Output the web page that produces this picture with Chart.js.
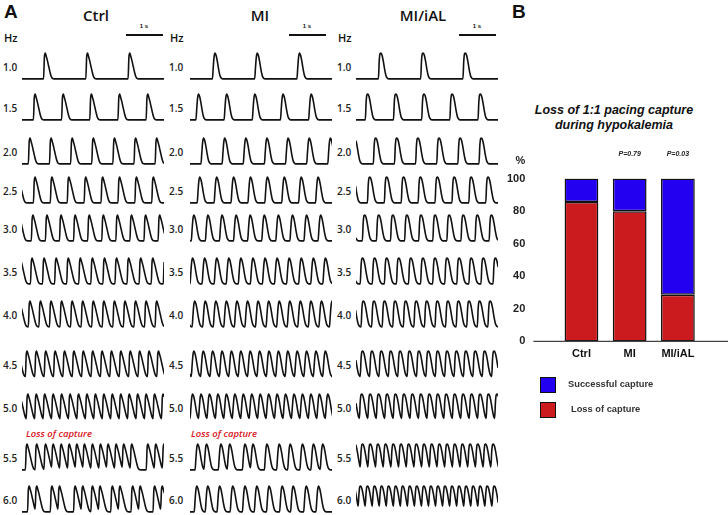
<!DOCTYPE html>
<html>
<head>
<meta charset="utf-8">
<script src="https://cdn.jsdelivr.net/npm/chart.js@4.4.1/dist/chart.umd.min.js"></script>
<style>
  body { margin: 0; background: #fff; }
  #fig { position: relative; width: 728px; height: 515px; overflow: hidden; font-family: "Liberation Sans", Arial, sans-serif; color: #111; }
  .abs { position: absolute; white-space: nowrap; line-height: 1; }
  .mid { transform: translateY(-50%); }
  .ctr { transform: translate(-50%, -50%); }
  .panel { font-weight: bold; font-size: 19px; }
  .grp { font-family: "Open Sans"; font-weight: 600; font-size: 15px; }
  .hz { font-family: "Open Sans"; font-weight: 600; font-size: 11px; }
  .rate { font-family: "Open Sans"; font-weight: 600; font-size: 10px; color: #222; }
  .sec { font-size: 6px; font-weight: bold; }
  .scalebar { height: 2px; width: 37px; background: #111; }
  .loc { font-family: "Open Sans"; font-style: italic; font-weight: 600; font-size: 9.5px; color: #d8141c; }
  .ttl { font-weight: bold; font-style: italic; font-size: 12.5px; }
  .legbox { width: 16px; height: 16px; box-sizing: border-box; border: 1.5px solid #111; }
  .legtxt { font-weight: bold; font-size: 9.3px; color: #333; }
  canvas { position: absolute; }
</style>
</head>
<body>
<div id="fig"></div>
<script>
// ---- panel A: optical action potential traces ----
const rateLabels = ['1.0', '1.5', '2.0', '2.5', '3.0', '3.5', '4.0', '4.5', '5.0', '5.5', '6.0'];
const groups = ['Ctrl', 'MI', 'MI/iAL'];
const traceSeconds = 3.36;

// first upstroke (s) of each regularly captured trace; null = loss of capture, listed below
const ctrlPhase = [0.51, 0.27, 0.15, 0.27, 0.22, 0.20, 0.15, 0.08, 0.10, null, null];
const miPhase   = [0.53, 0.14, 0.26, 0.17, 0.03, 0.00, 0.05, 0.03, 0.00, null, null];
const ialPhase  = [0.53, 0.22, 0.41, 0.27, 0.15, 0.10, 0.12, 0.10, 0.08, 0.10, 0.05];

// upstroke times (s) with loss of capture
const ctrlBeats55 = [0.08, 0.31, 0.52, 0.70, 0.89, 1.08, 1.26, 1.44, 1.63, 1.82, 2.00, 2.19, 2.37, 2.56, 2.94, 3.13, 3.32];
const ctrlBeats60 = [0.13, 0.31, 0.67, 0.85, 1.22, 1.40, 1.63, 1.81, 2.10, 2.28, 2.58, 2.76, 3.10, 3.28];
const miBeats55   = [0.12, 0.33, 0.67, 0.88, 1.24, 1.43, 1.76, 2.05, 2.31, 2.60, 2.86, 3.08];
const miBeats60   = [0.10, 0.36, 0.64, 0.95, 1.24, 1.52, 1.81, 2.12, 2.38, 2.69, 2.98];

// action potential shape after the upstroke: time (s) and normalised amplitude
const apTime = [0, 0.02, 0.04, 0.06, 0.09, 0.12, 0.15, 0.18, 0.21, 0.25];
const ctrlAp = [0, 0.85, 1.00, 0.90, 0.72, 0.50, 0.28, 0.10, 0.02, 0];
const miAp   = [0, 0.45, 0.85, 1.00, 0.90, 0.65, 0.35, 0.12, 0.03, 0];
const ialAp  = [0, 0.70, 0.98, 1.00, 0.90, 0.65, 0.35, 0.12, 0.03, 0];

// ---- panel B: loss of 1:1 pacing capture ----
const capGroups = ['Ctrl', 'MI', 'MI/iAL'];
const lossOfCapture = [85.7, 80.0, 28.6];
const successfulCapture = [14.3, 20.0, 71.4];
const pValues = ['', 'P=0.79', 'P=0.03'];

const fig = document.getElementById('fig');

document.addEventListener('DOMContentLoaded', function() {
  drawPanelA();
  drawPanelB();
});

function addText(text, cls, left, top) {
  const el = document.createElement('div');
  el.className = 'abs ' + cls;
  el.textContent = text;
  el.style.left = left + 'px';
  el.style.top = top + 'px';
  fig.appendChild(el);
  return el;
}

function shapeAt(shape, dt) {
  if (dt <= 0) return 0;
  for (let j = 1; j < apTime.length; j++) {
    if (dt <= apTime[j]) {
      const f = (dt - apTime[j - 1]) / (apTime[j] - apTime[j - 1]);
      return shape[j - 1] + f * (shape[j] - shape[j - 1]);
    }
  }
  return 0;
}

function regularBeats(phase, rate) {
  const beats = [];
  for (let k = -1; phase + k / rate < traceSeconds; k++) beats.push(phase + k / rate);
  return beats;
}

function buildTrace(beats, shape) {
  const pts = [];
  if (beats[0] > 0) pts.push({x: 0, y: 0});
  beats.forEach((b, i) => {
    const next = i < beats.length - 1 ? beats[i + 1] : Infinity;
    // a beat arriving during repolarisation starts from the current level
    const start = i > 0 ? shapeAt(shape, b - beats[i - 1]) : 0;
    pts.push({x: b, y: start});
    for (let j = 1; j < apTime.length; j++) {
      if (b + apTime[j] >= next) break;
      pts.push({x: b + apTime[j], y: shape[j]});
    }
  });
  if (pts[pts.length - 1].x < traceSeconds) pts.push({x: traceSeconds, y: 0});
  return pts;
}

function drawTrace(points, left, centerY) {
  const canvas = document.createElement('canvas');
  canvas.width = 142;
  canvas.height = 32;
  canvas.style.left = left + 'px';
  canvas.style.top = (centerY - 16) + 'px';
  fig.appendChild(canvas);

  new Chart(canvas, {
    type: 'line',
    data: {
      datasets: [{
        data: points,
        borderColor: '#111',
        borderWidth: 1.6,
        pointRadius: 0,
        cubicInterpolationMode: 'monotone',
        fill: false
      }]
    },
    options: {
      responsive: false,
      animation: false,
      events: [],
      layout: { padding: 0 },
      plugins: { legend: { display: false }, tooltip: { enabled: false } },
      scales: {
        x: { type: 'linear', display: false, min: 0, max: traceSeconds },
        y: { display: false, min: -0.12, max: 1.12 }
      }
    }
  });
}

function drawPanelA() {
  const traceLeft = [22, 190, 356];
  const labelLeft = [3, 169, 337];
  const rowCenter = [66, 107, 151, 190, 228, 271, 314, 364, 407, 457, 499];
  const titleX = [96, 260, 423];
  const barLeft = [126, 289, 459];

  const phases = [ctrlPhase, miPhase, ialPhase];
  const shapes = [ctrlAp, miAp, ialAp];
  const irregular = [
    { 9: ctrlBeats55, 10: ctrlBeats60 },
    { 9: miBeats55, 10: miBeats60 },
    {}
  ];

  addText('A', 'panel', 4, 2);

  groups.forEach((g, c) => {
    addText(g, 'grp ctr', titleX[c], 15);
    addText('Hz', 'hz mid', labelLeft[c] + 1, 37);
    addText('', 'scalebar', barLeft[c], 34);
    addText('1 s', 'sec ctr', barLeft[c] + 18, 26);

    rateLabels.forEach((r, i) => {
      addText(r, 'rate mid', labelLeft[c], rowCenter[i] + 1);
      const beats = irregular[c][i] || regularBeats(phases[c][i], parseFloat(r));
      drawTrace(buildTrace(beats, shapes[c]), traceLeft[c], rowCenter[i]);
    });
  });

  addText('Loss of capture', 'loc mid', 26, 434);
  addText('Loss of capture', 'loc mid', 191, 434);
}

function drawPanelB() {
  addText('B', 'panel', 512, 2);
  addText('Loss of 1:1 pacing capture', 'ttl ctr', 614, 110);
  addText('during hypokalemia', 'ttl ctr', 614, 125);

  const canvas = document.createElement('canvas');
  canvas.width = 258;
  canvas.height = 240;
  canvas.style.left = '470px';
  canvas.style.top = '140px';
  fig.appendChild(canvas);

  const annotate = {
    id: 'annotate',
    afterDatasetsDraw(chart) {
      const {ctx, chartArea, scales} = chart;
      const y0 = scales.y.getPixelForValue(0);
      const y100 = scales.y.getPixelForValue(100);
      ctx.save();
      // base line runs past the bars on both sides
      ctx.strokeStyle = '#444';
      ctx.lineWidth = 1.2;
      ctx.beginPath();
      ctx.moveTo(chartArea.left - 24, y0);
      ctx.lineTo(chart.width, y0);
      ctx.stroke();

      ctx.fillStyle = '#222';
      ctx.textAlign = 'center';
      ctx.textBaseline = 'middle';
      ctx.font = 'italic bold 7px "Liberation Sans", Arial';
      pValues.forEach((p, i) => {
        if (p) ctx.fillText(p, scales.x.getPixelForValue(i), y100 - 25);
      });

      ctx.textAlign = 'right';
      ctx.font = 'bold 11px "Liberation Sans", Arial';
      ctx.fillText('%', chartArea.left - 32, y100 - 18);
      ctx.restore();
    }
  };

  const chart = new Chart(canvas, {
    type: 'bar',
    data: {
      labels: capGroups,
      datasets: [
        {
          label: 'Loss of capture',
          data: lossOfCapture,
          backgroundColor: '#cc1b1e',
          borderColor: '#111',
          borderWidth: 1.5,
          borderSkipped: false
        },
        {
          label: 'Successful capture',
          data: successfulCapture,
          backgroundColor: '#2400f0',
          borderColor: '#111',
          borderWidth: 1.5,
          borderSkipped: false
        }
      ]
    },
    options: {
      responsive: false,
      animation: false,
      events: [],
      layout: { padding: { left: 5, right: 26, top: 38, bottom: 10 } },
      datasets: { bar: { categoryPercentage: 1, barPercentage: 0.7 } },
      plugins: { legend: { display: false }, tooltip: { enabled: false } },
      scales: {
        x: {
          stacked: true,
          grid: { display: false, drawTicks: false },
          border: { display: false },
          ticks: {
            color: '#111', padding: 6, maxRotation: 0, minRotation: 0, autoSkip: false,
            font: { family: '"Liberation Sans", Arial', weight: 'bold', size: 11 }
          }
        },
        y: {
          stacked: true,
          min: 0,
          max: 100,
          grid: { display: false, drawTicks: false },
          border: { display: false },
          ticks: { stepSize: 20, color: '#222', padding: 32, font: { family: '"Liberation Sans", Arial', weight: 'bold', size: 11 } }
        }
      }
    },
    plugins: [annotate]
  });

  // legend built from the chart's datasets, top entry first
  const legendTop = [377, 402];
  chart.data.datasets.slice().reverse().forEach((ds, i) => {
    const box = addText('', 'legbox', 540, legendTop[i]);
    box.style.background = ds.backgroundColor;
    addText(ds.label, 'legtxt mid', 568 + i * 3, legendTop[i] + 8);
  });
}
</script>
</body>
</html>
